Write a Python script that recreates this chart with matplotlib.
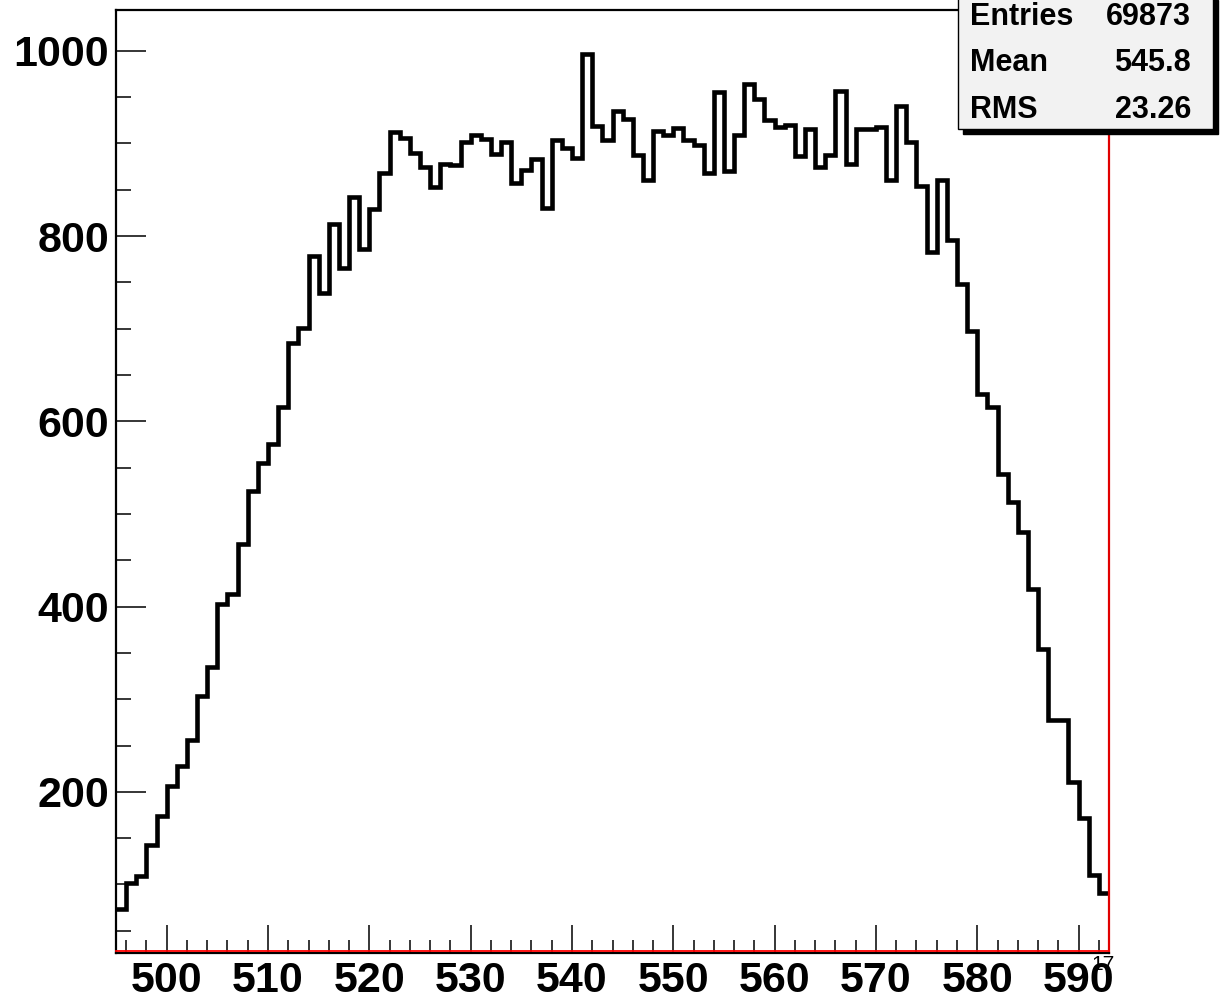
import numpy as np
import matplotlib
matplotlib.use("Agg")
import matplotlib.pyplot as plt
from matplotlib.ticker import MultipleLocator
from matplotlib.patches import Rectangle

plt.rcParams['font.family'] = ['Liberation Sans', 'DejaVu Sans']

# histogram: 98 bins of width 1 from 495 to 593
x_lo, x_hi = 495, 593
counts = [73, 102, 109, 143, 174, 206, 228, 256, 303, 335,
          403, 414, 467, 525, 555, 576, 615, 684, 701, 778,
          738, 813, 765, 842, 786, 829, 868, 912, 906, 890,
          875, 853, 878, 877, 901, 909, 905, 889, 902, 857,
          871, 883, 830, 904, 895, 884, 996, 919, 904, 935,
          926, 887, 860, 913, 909, 917, 904, 898, 868, 955,
          870, 909, 964, 948, 925, 918, 920, 886, 915, 874,
          887, 957, 878, 915, 916, 918, 860, 940, 902, 854,
          783, 860, 796, 748, 697, 629, 615, 543, 513, 480,
          419, 354, 277, 277, 211, 172, 110, 91]
edges = np.arange(x_lo, x_hi + 1)

stat_names = ["Entries", "Mean", "RMS"]
stat_values = ["69873", "545.8", "23.26"]

W, H = 1222, 1001
fig = plt.figure(figsize=(W / 100, H / 100), dpi=100)
fig.patch.set_facecolor("white")

def fx(px):
    return px / W

def fy(py):
    return 1 - py / H

ax = fig.add_axes([fx(116), fy(953), fx(1109) - fx(116), fy(10) - fy(953)])
ax.stairs(counts, edges, baseline=None, color="black", linewidth=3.3)

ax.set_xlim(x_lo, x_hi)
ax.set_ylim(26, 1044)

ax.xaxis.set_major_locator(MultipleLocator(10))
ax.xaxis.set_minor_locator(MultipleLocator(2))
ax.yaxis.set_major_locator(MultipleLocator(200))
ax.yaxis.set_minor_locator(MultipleLocator(50))

ax.tick_params(axis="x", which="major", direction="in", length=20, width=1.1, pad=6,
               labelsize=31)
ax.tick_params(axis="x", which="minor", direction="in", length=9.5, width=1.1)
ax.tick_params(axis="y", which="major", direction="in", length=21.5, width=1.1, pad=5,
               labelsize=31)
ax.tick_params(axis="y", which="minor", direction="in", length=10.8, width=1.1)
for lab in ax.get_xticklabels() + ax.get_yticklabels():
    lab.set_fontweight("bold")

for side in ["left", "top", "bottom"]:
    ax.spines[side].set_color("black")
    ax.spines[side].set_linewidth(1.6)
ax.spines["right"].set_color("#e00000")
ax.spines["right"].set_linewidth(1.6)
# red frame line sitting on the bottom axis
ax.plot([0, 1], [0.0022, 0.0022], transform=ax.transAxes, color="#ff0000",
        linewidth=1.3, clip_on=False, zorder=5)

# stats box with drop shadow
bx0, bx1, by0, by1 = 958, 1213, -5, 129
shadow = Rectangle((fx(bx0 + 5), fy(by1 + 5)), fx(bx1) - fx(bx0), fy(by0) - fy(by1),
                   transform=fig.transFigure, facecolor="black", edgecolor="black",
                   zorder=10)
box = Rectangle((fx(bx0), fy(by1)), fx(bx1) - fx(bx0), fy(by0) - fy(by1),
                transform=fig.transFigure, facecolor="#f2f2f2", edgecolor="black",
                linewidth=1.0, zorder=11)
fig.add_artist(shadow)
fig.add_artist(box)

row_y = [17, 63, 110]
for name, val, yy in zip(stat_names, stat_values, row_y):
    fig.text(fx(970), fy(yy), name, ha="left", va="center", fontsize=22,
             fontweight="bold", zorder=12)
    fig.text(fx(1191), fy(yy), val, ha="right", va="center", fontsize=22,
             fontweight="bold", zorder=12)

fig.text(fx(1103), fy(964), "17", ha="center", va="center", fontsize=15, zorder=20)

fig.savefig("out.png", dpi=100)
